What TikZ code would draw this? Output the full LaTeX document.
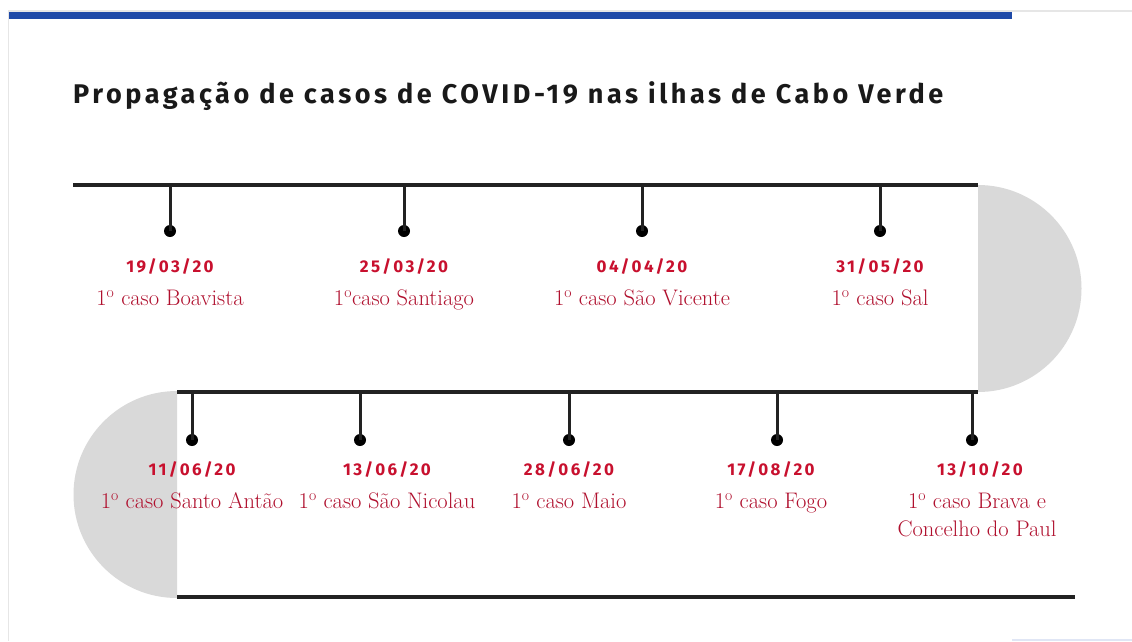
\documentclass[tikz,border=0pt]{standalone}
\usepackage{fontspec}
\setmainfont{Latin Modern Roman}
\newfontfamily\titlefont[LetterSpace=13.2]{Fira Sans}
\newfontfamily\datefont[LetterSpace=14]{Fira Sans}
\definecolor{barblue}{HTML}{1F4AA8}
\definecolor{datered}{HTML}{C8102E}
\definecolor{labred}{HTML}{B0102E}
\definecolor{capgrey}{HTML}{D9D9D9}
\definecolor{linegrey}{HTML}{222222}
\definecolor{frame}{HTML}{E6E6E6}
\definecolor{faintblue}{HTML}{E0E6F5}
\tikzset{
  tl/.style={line width=3.5pt, draw=linegrey},
  tick/.style={line width=3pt, draw=linegrey},
  dotmark/.style={circle, fill=black, inner sep=0pt, minimum size=12pt},
  datelab/.style={text=datered, font=\datefont\bfseries\fontsize{17}{19}\selectfont, inner sep=0pt},
  caselab/.style={text=labred, font=\fontsize{22.5}{28}\selectfont, inner sep=0pt, align=center},
}
\newcommand{\prim}{1\textsuperscript{o}}
\begin{document}
\begin{tikzpicture}[x=1pt,y=-1pt]
\useasboundingbox (0,0) rectangle (1132,641);
\fill[white] (0,0) rectangle (1132,641);
% frame
\draw[frame, line width=1.2pt] (8.5,641) -- (8.5,11) -- (1132,11);
\draw[faintblue, line width=1.5pt] (1012,640) -- (1132,640);
\fill[barblue] (9,12) rectangle (1012,19);
% title
\node[anchor=base west, inner sep=0pt, font=\titlefont\bfseries\fontsize{27}{32}\selectfont, text=black!90] (title) at (73,103) {Propagação de casos de COVID-19 nas ilhas de Cabo Verde};
% half discs
\fill[capgrey] (978,185) arc[start angle=-90, end angle=90, radius=103.5] -- cycle;
\fill[capgrey] (177,391) arc[start angle=270, end angle=90, radius=103.5] -- cycle;
% lines
\coordinate (l1a) at (73,185); \coordinate (l1b) at (978,185);
\coordinate (l2a) at (177,392); \coordinate (l2b) at (978,392);
\coordinate (l3a) at (177,597); \coordinate (l3b) at (1075,597);
\draw[tl] (l1a) -- (l1b);
\draw[tl] (l2a) -- (l2b);
\draw[tl] (l3a) -- (l3b);
% row 1
\foreach \n/\x in {a/170,b/404,c/642,d/880}{
  \coordinate (t\n) at (\x,186);
  \node[dotmark] (p\n) at (\x,231) {};
  \draw[tick] (t\n) -- (p\n.center);
}
\node[datelab] (da) at (170,267) {19/03/20};
\node[datelab] (db) at (404,267) {25/03/20};
\node[datelab] (dc) at (642,267) {04/04/20};
\node[datelab] (dd) at (880,267) {31/05/20};
\node[caselab, anchor=base] (ca) at (170,305) {\prim{} caso Boavista};
\node[caselab, anchor=base] (cb) at (404,305) {\prim caso Santiago};
\node[caselab, anchor=base] (cc) at (642,305) {\prim{} caso São Vicente};
\node[caselab, anchor=base] (cd) at (880,305) {\prim{} caso Sal};
% row 2
\foreach \n/\x in {e/192,f/360,g/569,h/777,i/972}{
  \coordinate (t\n) at (\x,393);
  \node[dotmark] (p\n) at (\x,440) {};
  \draw[tick] (t\n) -- (p\n.center);
}
\node[datelab] (de) at (192,470) {11/06/20};
\node[datelab] (df) at (387,470) {13/06/20};
\node[datelab] (dg) at (569,470) {28/06/20};
\node[datelab] (dh) at (771,470) {17/08/20};
\node[datelab] (di) at (980,470) {13/10/20};
\node[caselab, anchor=base] (ce) at (192,508) {\prim{} caso Santo Antão};
\node[caselab, anchor=base] (cf) at (387,508) {\prim{} caso São Nicolau};
\node[caselab, anchor=base] (cg) at (569,508) {\prim{} caso Maio};
\node[caselab, anchor=base] (ch) at (771,508) {\prim{} caso Fogo};
\node[caselab, anchor=base] (ci) at (977,508) {\prim{} caso Brava e};
\node[caselab, anchor=base] (cj) at (977,536) {Concelho do Paul};
\end{tikzpicture}
\end{document}
